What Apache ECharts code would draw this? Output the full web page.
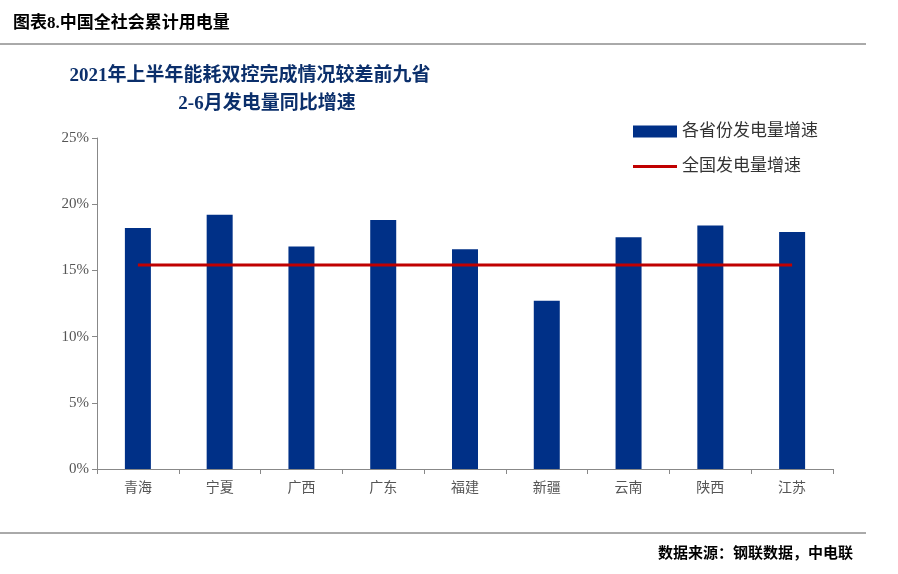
<!DOCTYPE html>
<html><head><meta charset="utf-8">
<script src="https://cdn.jsdelivr.net/npm/echarts@6/dist/echarts.min.js"></script>
<style>html,body{margin:0;padding:0;background:#fff}#c{width:898px;height:574px}</style>
</head><body><div id="c"></div>
<script>
// 省份
const provinces = ['青海', '宁夏', '广西', '广东', '福建', '新疆', '云南', '陕西', '江苏']
// 各省份发电量增速 (%)
const provinceGrowth = [18.2, 19.2, 16.8, 18.8, 16.6, 12.7, 17.5, 18.4, 17.9]
// 全国发电量增速 (%)
const nationalGrowth = 15.4
const yTicks = [0, 5, 10, 15, 20, 25]

const serif = '"Liberation Serif", "Noto Sans CJK SC", serif'
const legendText = { fontSize: 17, color: '#333', fontFamily: serif }
const chart = echarts.init(document.getElementById('c'))
chart.setOption({
  animation: false,
  textStyle: { fontFamily: serif },
  title: [
    { text: '图表8.中国全社会累计用电量', left: 8, top: 10,
      textStyle: { fontSize: 17, fontWeight: 'bold', color: '#000', fontFamily: serif } },
    { text: '2021年上半年能耗双控完成情况较差前九省', left: 245, top: 62, textAlign: 'center',
      textStyle: { fontSize: 19, fontWeight: 'bold', color: '#0b2f6b', fontFamily: serif } },
    { text: '2-6月发电量同比增速', left: 262, top: 90, textAlign: 'center',
      textStyle: { fontSize: 19, fontWeight: 'bold', color: '#0b2f6b', fontFamily: serif } },
    { text: '数据来源：钢联数据，中电联', right: 40, top: 542,
      textStyle: { fontSize: 15, fontWeight: 'bold', color: '#000', fontFamily: serif } }
  ],
  graphic: [
    { type: 'line', shape: { x1: 0, y1: 44, x2: 866, y2: 44 }, style: { stroke: '#555', lineWidth: 1 } },
    { type: 'line', shape: { x1: 0, y1: 533, x2: 866, y2: 533 }, style: { stroke: '#555', lineWidth: 1 } }
  ],
  legend: [
    { left: 628, top: 118, itemWidth: 44, itemHeight: 12, textStyle: legendText,
      data: [{ name: '各省份发电量增速', icon: 'rect' }] },
    { left: 628, top: 153, itemWidth: 44, itemHeight: 3, textStyle: legendText,
      data: [{ name: '全国发电量增速', icon: 'rect' }] }
  ],
  grid: { left: 97, right: 65, top: 138, bottom: 105 },
  xAxis: {
    type: 'category', data: provinces,
    axisLine: { lineStyle: { color: '#888' } },
    axisTick: { show: true, lineStyle: { color: '#888' } },
    axisLabel: { fontSize: 14, color: '#555', margin: 12 }
  },
  yAxis: {
    type: 'value', min: yTicks[0], max: yTicks[yTicks.length - 1], interval: 5,
    splitLine: { show: false },
    axisLine: { show: true, lineStyle: { color: '#888' } },
    axisTick: { show: true, lineStyle: { color: '#888' } },
    axisLabel: { fontSize: 15, color: '#555', formatter: v => v + '%' }
  },
  series: [
    { name: '各省份发电量增速', type: 'bar', data: provinceGrowth, barWidth: 26,
      itemStyle: { color: '#003087' } },
    { name: '全国发电量增速', type: 'line', data: provinces.map(() => nationalGrowth),
      symbol: 'none', lineStyle: { color: '#c00000', width: 3 }, itemStyle: { color: '#c00000' } }
  ]
})
</script></body></html>
